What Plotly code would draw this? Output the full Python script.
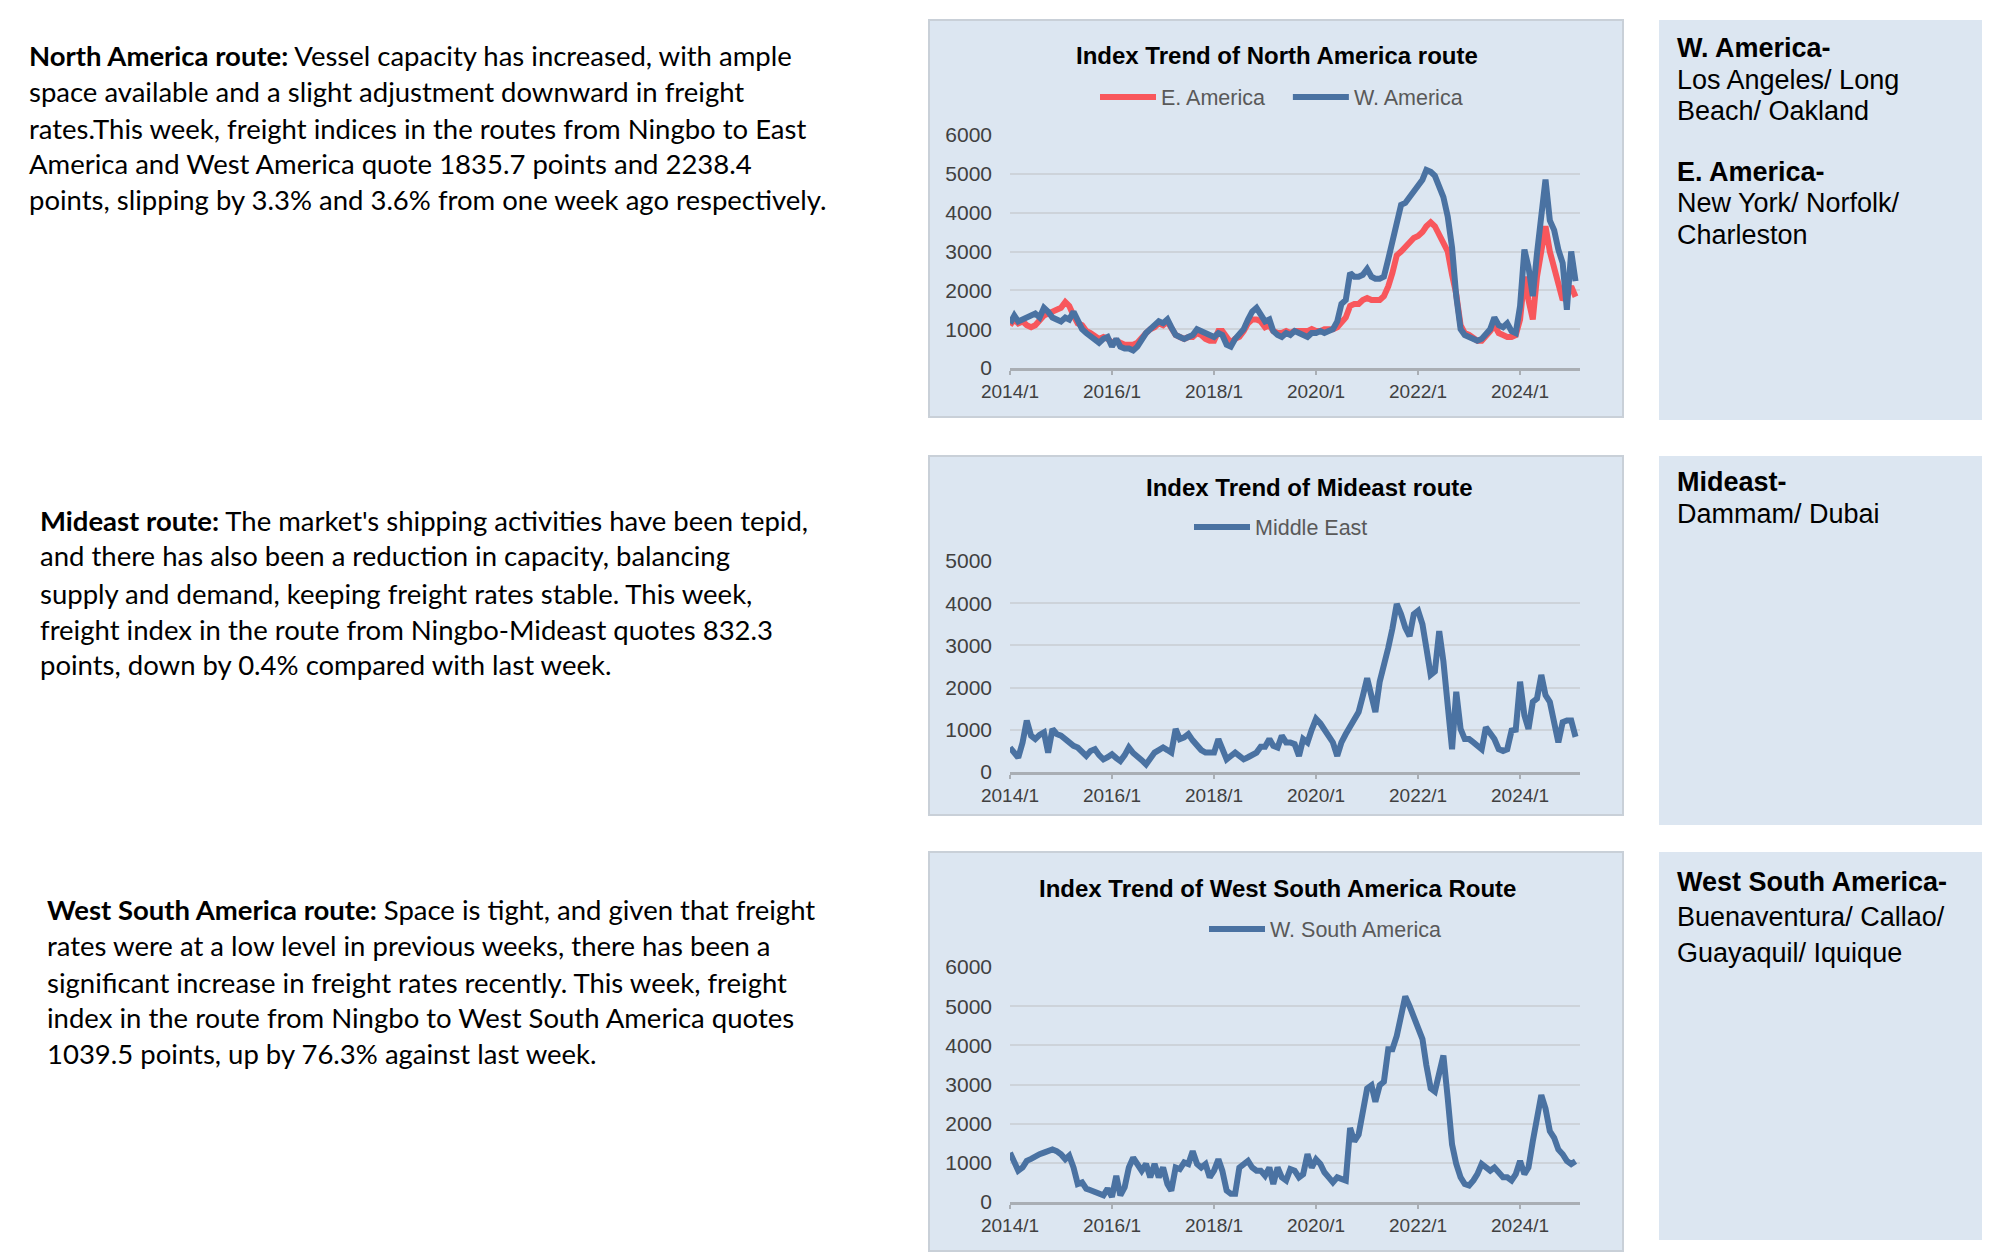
import pandas as pd
import plotly.graph_objects as go

W, H = 1993, 1253

# ---------------- data (monthly readings, 2014/1 .. 2025/2) ----------------
months = pd.date_range("2014-01-01", periods=134, freq="MS")

e_america = [
    1100, 1250, 1150, 1200, 1100, 1050, 1100, 1250, 1350, 1400, 1450, 1500,
    1550, 1700, 1600, 1350, 1150, 1100, 950, 900, 800, 750, 800, 750,
    650, 700, 650, 600, 600, 600, 650, 750, 900, 1000, 1050, 1150,
    1100, 1200, 1000, 850, 800, 750, 800, 800, 900, 850, 750, 700,
    700, 950, 950, 800, 650, 750, 800, 950, 1150, 1250, 1250, 1200,
    1050, 1100, 950, 900, 900, 950, 900, 950, 950, 950, 950, 1000,
    950, 950, 1000, 1000, 1000, 1050, 1150, 1300, 1600, 1650, 1650, 1750,
    1800, 1750, 1750, 1750, 1850, 2100, 2450, 2900, 3000, 3100, 3200, 3350,
    3400, 3500, 3650, 3750, 3650, 3450, 3200, 3000, 2400, 1900, 1100, 900,
    850, 750, 700, 700, 800, 950, 1100, 900, 850, 800, 800, 850,
    1250, 2350, 1750, 1250, 2350, 2950, 3650, 3000, 2600, 2200, 1750, 1900,
    2100, 1835.7,
]
w_america = [
    1150, 1350, 1200, 1250, 1300, 1350, 1400, 1300, 1550, 1450, 1300, 1250,
    1200, 1300, 1250, 1450, 1200, 1000, 900, 800, 700, 650, 750, 800,
    550, 750, 550, 500, 500, 450, 550, 750, 900, 1000, 1100, 1200,
    1150, 1250, 1050, 850, 800, 750, 800, 850, 1000, 950, 900, 850,
    800, 900, 850, 600, 550, 750, 850, 1000, 1250, 1450, 1550, 1400,
    1200, 1250, 950, 850, 800, 900, 850, 950, 900, 850, 800, 900,
    900, 950, 900, 950, 1000, 1200, 1650, 1750, 2450, 2350, 2350, 2400,
    2550, 2350, 2300, 2300, 2350, 2800, 3300, 3800, 4200, 4250, 4400, 4550,
    4700, 4850, 5100, 5050, 4950, 4700, 4400, 3900, 3100, 1850, 1000, 850,
    800, 750, 700, 750, 850, 1000, 1300, 1100, 1050, 1150, 950, 900,
    1600, 3050, 2600, 1850, 2950, 4000, 4850, 3800, 3550, 3050, 2700, 1500,
    3000, 2238.4,
]
middle_east = [
    580, 460, 340, 700, 1220, 860, 780, 880, 940, 460, 1020, 900,
    860, 780, 700, 620, 580, 480, 380, 500, 540, 400, 300, 350,
    420, 330, 260, 400, 580, 450, 380, 280, 180, 300, 460, 520,
    580, 520, 460, 1020, 780, 820, 900, 750, 620, 520, 460, 450,
    460, 780, 500, 300, 380, 460, 380, 300, 350, 420, 460, 600,
    600, 780, 620, 580, 860, 700, 700, 660, 380, 780, 700, 1000,
    1260, 1150, 1020, 850, 700, 380, 700, 900, 1100, 1250, 1420, 1800,
    2220, 1800, 1420, 2140, 2500, 2940, 3400, 3980, 3740, 3420, 3220, 3740,
    3820, 3500, 2940, 2300, 2380, 3340, 2620, 1420, 540, 1900, 1020, 780,
    780, 700, 620, 540, 1060, 900, 780, 540, 500, 540, 980, 1000,
    2140, 1340, 1020, 1660, 1740, 2300, 1820, 1660, 1100, 700, 1180, 1220,
    1220, 832.3,
]
w_south_america = [
    1260, 1050, 800, 880, 1050, 1100, 1180, 1220, 1260, 1300, 1340, 1300,
    1220, 1090, 1180, 880, 460, 500, 340, 300, 250, 200, 170, 340,
    130, 670, 170, 380, 880, 1130, 970, 800, 970, 630, 970, 630,
    880, 460, 290, 880, 840, 1010, 970, 1300, 970, 880, 970, 630,
    800, 1090, 800, 290, 210, 210, 880, 970, 1050, 880, 800, 800,
    670, 880, 460, 880, 630, 550, 840, 800, 630, 710, 1220, 880,
    1090, 970, 760, 630, 500, 630, 590, 550, 1890, 1550, 1720, 2390,
    2900, 2980, 2560, 2980, 3070, 3900, 3900, 4240, 4830, 5250, 5000, 4750,
    4500, 4160, 3490, 2900, 2820, 3320, 3740, 2650, 1470, 970, 630, 460,
    420, 550, 710, 970, 880, 800, 880, 760, 630, 630, 550, 710,
    1050, 710, 880, 1550, 2230, 2730, 2390, 1810, 1640, 1340, 1220, 1050,
    970, 1039.5,
]

tick_dates = ["2014-01-01", "2016-01-01", "2018-01-01", "2020-01-01", "2022-01-01", "2024-01-01"]
tick_labels = ["2014/1", "2016/1", "2018/1", "2020/1", "2022/1", "2024/1"]

chart_titles = ["Index Trend of North America route",
                "Index Trend of Mideast route",
                "Index Trend of West South America Route"]

para1 = [
    ("North America route:", " Vessel capacity has increased, with ample"),
    ("", "space available and a slight adjustment downward in freight"),
    ("", "rates.This week, freight indices in the routes from Ningbo to East"),
    ("", "America and West America quote 1835.7 points and 2238.4"),
    ("", "points, slipping by 3.3% and 3.6% from one week ago respectively."),
]
para2 = [
    ("Mideast route:", " The market's shipping activities have been tepid,"),
    ("", "and there has also been a reduction in capacity, balancing"),
    ("", "supply and demand, keeping freight rates stable. This week,"),
    ("", "freight index in the route from Ningbo-Mideast quotes 832.3"),
    ("", "points, down by 0.4% compared with last week."),
]
para3 = [
    ("West South America route:", " Space is tight, and given that freight"),
    ("", "rates were at a low level in previous weeks, there has been a"),
    ("", "significant increase in freight rates recently. This week, freight"),
    ("", "index in the route from Ningbo to West South America quotes"),
    ("", "1039.5 points, up by 76.3% against last week."),
]
box1 = [("W. America-", True), ("Los Angeles/ Long", False), ("Beach/ Oakland", False),
        ("E. America-", True), ("New York/ Norfolk/", False), ("Charleston", False)]
box2 = [("Mideast-", True), ("Dammam/ Dubai", False)]
box3 = [("West South America-", True), ("Buenaventura/ Callao/", False), ("Guayaquil/ Iquique", False)]

# ---------------- styling ----------------
BLUE = "#4A72A2"
RED = "#F8575C"
PANEL = "#DCE6F1"
GRID = "#CDD3DA"
TICKC = "#404040"
CHART_FONT = "Liberation Sans, Arial, sans-serif"
TEXT_FONT = "Lato, Carlito, Calibri, sans-serif"
LW = 6
NBSP = "\u00a0"


def px(x):
    return x / W


def py(y):
    return 1 - y / H


fig = go.Figure()
fig.add_trace(go.Scatter(x=months, y=e_america, name="E. America" + NBSP * 3, mode="lines",
                         line=dict(color=RED, width=LW), xaxis="x", yaxis="y", legend="legend"))
fig.add_trace(go.Scatter(x=months, y=w_america, name="W. America", mode="lines",
                         line=dict(color=BLUE, width=LW), xaxis="x", yaxis="y", legend="legend"))
fig.add_trace(go.Scatter(x=months, y=middle_east, name="Middle East", mode="lines",
                         line=dict(color=BLUE, width=LW), xaxis="x2", yaxis="y2", legend="legend2"))
fig.add_trace(go.Scatter(x=months, y=w_south_america, name="W. South America", mode="lines",
                         line=dict(color=BLUE, width=LW), xaxis="x3", yaxis="y3", legend="legend3"))

xdom = [px(1010), px(1580)]
xrange_ = ["2014-01-01", "2025-03-05"]


def xaxis(anchor):
    return dict(domain=xdom, range=xrange_, anchor=anchor, type="date", automargin=False,
                tickmode="array", tickvals=tick_dates, ticktext=tick_labels,
                showgrid=False, zeroline=False, showline=True, linecolor="#A9AEB4", linewidth=3,
                ticks="outside", ticklen=4, tickwidth=2, tickcolor="#A9AEB4",
                tickfont=dict(family=CHART_FONT, size=19, color=TICKC))


def yaxis(anchor, dom, rng, dtick):
    return dict(domain=dom, range=rng, anchor=anchor, dtick=dtick, automargin=False,
                showgrid=True, gridcolor=GRID, gridwidth=2, zeroline=False,
                showline=False, ticks="", ticklabelstandoff=17,
                tickfont=dict(family=CHART_FONT, size=21, color=TICKC))


shapes = []
# chart panels
for (y0, y1) in [(20, 417), (456, 815), (852, 1251)]:
    shapes.append(dict(type="rect", xref="paper", yref="paper", x0=px(929), x1=px(1623),
                       y0=py(y1), y1=py(y0), fillcolor=PANEL, line=dict(color="#C9D0D8", width=2),
                       layer="below"))
# side info panels
for (y0, y1) in [(20, 420), (456, 825), (852, 1240)]:
    shapes.append(dict(type="rect", xref="paper", yref="paper", x0=px(1659), x1=px(1982),
                       y0=py(y1), y1=py(y0), fillcolor=PANEL, line=dict(width=0), layer="below"))

annotations = []
for title, (cx, cy) in zip(chart_titles, [(1277, 56), (1309, 487), (1277, 888)]):
    annotations.append(dict(text="<b>%s</b>" % title, x=px(cx), y=py(cy), xref="paper", yref="paper",
                            showarrow=False, xanchor="center", yanchor="middle",
                            font=dict(family=CHART_FONT, size=24, color="#000000")))


def add_para(lines, x0, ys):
    for (b, t), yy in zip(lines, ys):
        txt = ("<b>%s</b>" % b if b else "") + t
        annotations.append(dict(text=txt, x=px(x0), y=py(yy), xref="paper", yref="paper",
                                showarrow=False, xanchor="left", yanchor="middle",
                                font=dict(family=TEXT_FONT, size=27.5, color="#000000")))


add_para(para1, 27, [56, 92, 128, 163, 200])
add_para(para2, 38, [520, 556, 593, 629, 664])
add_para(para3, 45, [909, 945, 982, 1017, 1053])


def add_box(lines, x0, ys):
    for (t, bold), yy in zip(lines, ys):
        annotations.append(dict(text=("<b>%s</b>" % t) if bold else t, x=px(x0), y=py(yy),
                                xref="paper", yref="paper", showarrow=False,
                                xanchor="left", yanchor="middle",
                                font=dict(family=CHART_FONT, size=27, color="#000000")))


add_box(box1, 1675, [48, 80, 111, 172, 203, 235])
add_box(box2, 1675, [482, 514])
add_box(box3, 1675, [882, 917, 953])

legend_common = dict(orientation="h", xanchor="left", yanchor="middle", bgcolor="rgba(0,0,0,0)",
                     font=dict(family=CHART_FONT, size=21.5, color="#595959"),
                     itemwidth=56, tracegroupgap=0, itemclick=False)

fig.update_layout(
    width=W, height=H, margin=dict(l=0, r=0, t=0, b=0, autoexpand=False),
    paper_bgcolor="white", plot_bgcolor="rgba(0,0,0,0)",
    showlegend=True,
    xaxis=xaxis("y"), xaxis2=xaxis("y2"), xaxis3=xaxis("y3"),
    yaxis=yaxis("x", [py(368), py(135)], [0, 6000], 1000),
    yaxis2=yaxis("x2", [py(772), py(561)], [0, 5000], 1000),
    yaxis3=yaxis("x3", [py(1202), py(967)], [0, 6000], 1000),
    legend=dict(x=px(1095), y=py(97), **legend_common),
    legend2=dict(x=px(1189), y=py(527), **legend_common),
    legend3=dict(x=px(1204), y=py(929), **legend_common),
    shapes=shapes, annotations=annotations,
)

fig.write_html(
    "out.html",
    config={"displayModeBar": False},
    post_script="document.body.style.margin='0';document.body.style.overflow='hidden';"
                "document.documentElement.style.overflow='hidden';",
)
